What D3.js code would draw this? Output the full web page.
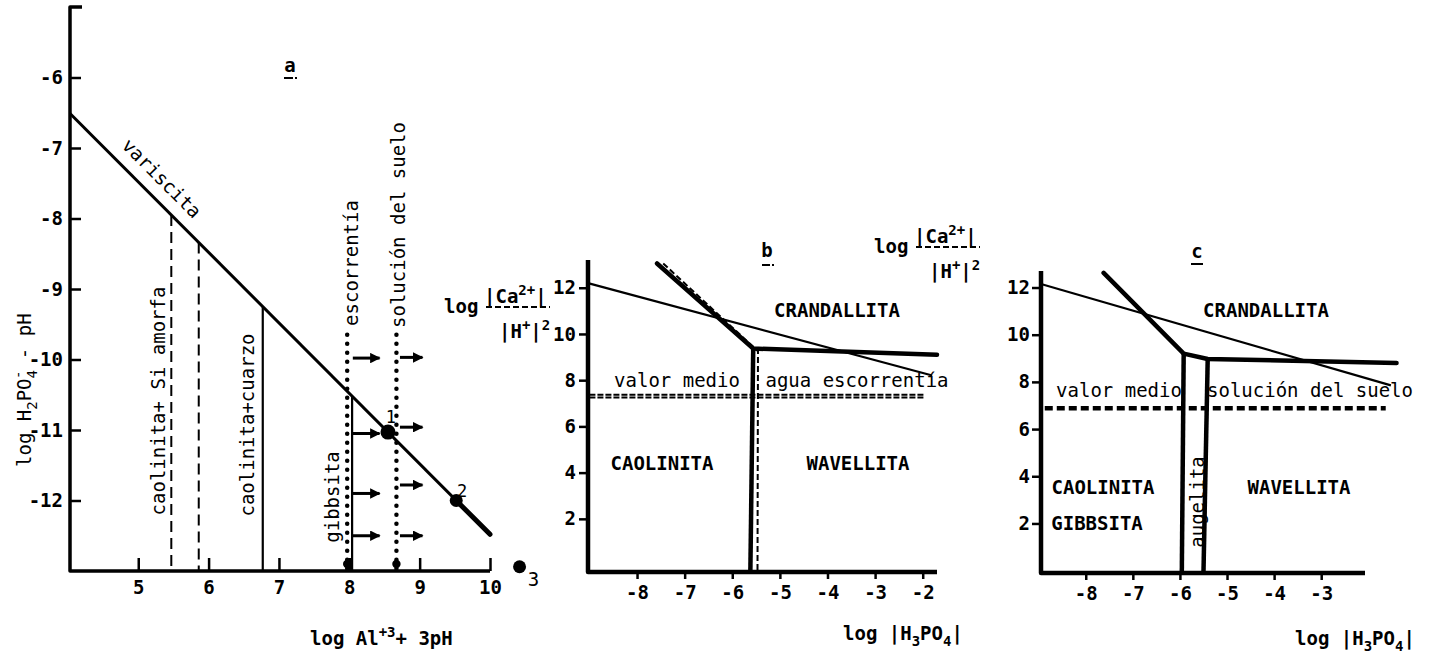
<!DOCTYPE html>
<html>
<head>
<meta charset="utf-8">
<script src="https://cdn.jsdelivr.net/npm/d3@7"></script>
<style>
  body { margin: 0; background: #fff; }
  svg text { font-family: "DejaVu Sans Mono", monospace; fill: #000; font-size: 19px; }
  .bold { font-weight: bold; }
  .tick text { font-family: "DejaVu Sans Mono", monospace; font-size: 19px; font-weight: bold; }
</style>
</head>
<body>
<svg id="chart" width="1430" height="660"></svg>
<script>
// ---------- data, panel a ----------
const aXTicks = [5, 6, 7, 8, 9, 10];
const aYTicks = [-6, -7, -8, -9, -10, -11, -12];
const variscita = [[4.03, -6.51], [10, -12.48]];
const variscitaThick = [[9.52, -12.0], [10, -12.48]];
const aDashedX = [5.47, 5.86];
const aDashedTop = [-7.95, -8.34];
const aSolidX = [6.77, 8.04];
const aSolidTop = [-9.25, -10.52];
const aDottedX = [7.97, 8.67];
const aDottedTop = [-9.65, -9.65];
const arrowsLeftY = [-9.98, -11.05, -11.9, -12.5];
const arrowsRightY = [-9.97, -10.96, -11.78, -12.5];
const arrowsLeftX = [8.05, 8.43];
const arrowsRightX = [8.72, 9.04];
const aPoints = [
  { x: 8.55, y: -11.03, label: "1" },
  { x: 9.52, y: -12.0, label: "2" },
  { x: 10.42, y: -12.94, label: "3" }
];

// ---------- data, panel b ----------
const bXTicks = [-8, -7, -6, -5, -4, -3, -2];
const bYTicks = [2, 4, 6, 8, 10, 12];
const bThin = [[-9.03, 12.2], [-1.8, 8.2]];
const bThick = [[-7.58, 13.05], [-5.56, 9.37], [-1.7, 9.1]];
const bThickVert = [[-5.56, 9.37], [-5.62, -0.3]];
const bDashed = [[-7.45, 13.05], [-5.46, 9.25], [-5.47, -0.3]];
const bMedio = [7.37, 7.25];
const bMedioX = [-9.0, -1.95];

// ---------- data, panel c ----------
const cXTicks = [-8, -7, -6, -5, -4, -3];
const cYTicks = [2, 4, 6, 8, 10, 12];
const cThin = [[-8.95, 12.15], [-1.52, 7.85]];
const cThick = [[-7.62, 12.62], [-5.92, 9.2], [-5.41, 8.97], [-1.4, 8.8]];
const cVert1 = [[-5.92, 9.2], [-5.96, -0.1]];
const cVert2 = [[-5.41, 8.97], [-5.5, -0.1]];
const cMedio = 6.88;
const cMedioX = [-8.87, -1.63];

const svg = d3.select("#chart");

// arrow head
svg.append("defs").append("marker")
    .attr("id", "arrow")
    .attr("viewBox", "0 0 10 10")
    .attr("refX", 9).attr("refY", 5)
    .attr("markerWidth", 4).attr("markerHeight", 3.5)
    .attr("markerUnits", "strokeWidth")
    .attr("orient", "auto")
  .append("path")
    .attr("d", "M0,0 L10,5 L0,10 Z")
    .attr("fill", "#000");

function path(g, pts, x, y, w, dash, cap) {
  return g.append("path")
    .attr("d", d3.line().x(d => x(d[0])).y(d => y(d[1]))(pts))
    .attr("fill", "none")
    .attr("stroke", "#000")
    .attr("stroke-width", w)
    .attr("stroke-linejoin", "round")
    .attr("stroke-linecap", cap || "butt")
    .attr("stroke-dasharray", dash || null);
}

function label(g, str, cx, cy, opts = {}) {
  const t = g.append("text")
    .attr("text-anchor", opts.anchor || "middle")
    .attr("dominant-baseline", "central")
    .attr("class", opts.bold ? "bold" : null)
    .attr("transform", `translate(${cx},${cy}) rotate(${opts.rot || 0})`)
    .text(str);
  if (opts.size) t.style("font-size", opts.size + "px");
  return t;
}

// mixed text with sub/superscripts: parts = [[text, "n"|"sub"|"sup", dx]]
function rich(g, parts, x, y, rot) {
  const t = g.append("text")
    .attr("transform", `translate(${x},${y}) rotate(${rot || 0})`);
  let shift = 0;
  parts.forEach(([s, kind, dx]) => {
    const target = kind === "sub" ? 6 : kind === "sup" ? -8 : 0;
    const ts = t.append("tspan").text(s).attr("dy", target - shift);
    if (dx) ts.attr("dx", dx);
    if (kind !== "n") ts.style("font-size", "14px");
    shift = target;
  });
  return t;
}

function styleAxis(g) {
  g.select(".domain").remove();
  g.selectAll(".tick line").attr("stroke", "#000").attr("stroke-width", 2.5);
}

// ================= panel a =================
const ax = d3.scaleLinear().domain([4.03, 10]).range([70, 490]);
const ay = d3.scaleLinear().domain([-13, -5]).range([571, 7]);
const ga = svg.append("g");

ga.append("g")
    .attr("transform", "translate(0,571)")
    .call(d3.axisBottom(ax).tickValues(aXTicks).tickSizeInner(-13).tickSizeOuter(0).tickPadding(10).tickFormat(d => String(d)))
    .call(styleAxis);
ga.append("g")
    .attr("transform", "translate(70,0)")
    .call(d3.axisLeft(ay).tickValues(aYTicks).tickSizeInner(-11).tickSizeOuter(0).tickPadding(7).tickFormat(d => String(d)))
    .call(styleAxis);

// axis frame
path(ga, [[ax.invert(82), -5], [4.03, -5], [4.03, -13], [10, -13]], ax, ay, 3.5);

// variscita line
path(ga, variscita, ax, ay, 3);
path(ga, variscitaThick, ax, ay, 5, null, "round");

// vertical lines
aDashedX.forEach((x, i) => path(ga, [[x, aDashedTop[i]], [x, -13]], ax, ay, 2, "11,6"));
aSolidX.forEach((x, i) => path(ga, [[x, aSolidTop[i]], [x, -13]], ax, ay, 2.2));
aDottedX.forEach((x, i) => {
  path(ga, [[x, aDottedTop[i]], [x, -13]], ax, ay, 4.5, "0,9", "round");
  ga.append("circle").attr("cx", ax(x)).attr("cy", ay(-12.9)).attr("r", 4.2).attr("fill", "#000");
});

// arrows
arrowsLeftY.forEach(y => path(ga, [[arrowsLeftX[0], y], [arrowsLeftX[1], y]], ax, ay, 3).attr("marker-end", "url(#arrow)"));
arrowsRightY.forEach(y => path(ga, [[arrowsRightX[0], y], [arrowsRightX[1], y]], ax, ay, 3).attr("marker-end", "url(#arrow)"));

// points
ga.selectAll("circle.pt").data(aPoints).enter().append("circle")
    .attr("class", "pt")
    .attr("cx", d => ax(d.x)).attr("cy", d => ay(d.y))
    .attr("r", (d, i) => i === 0 ? 7.5 : 6.5)
    .attr("fill", "#000");
label(ga, "1", ax(aPoints[0].x) + 3, ay(aPoints[0].y) - 15, { size: 17 });
label(ga, "2", ax(aPoints[1].x) + 6, ay(aPoints[1].y) - 10, { size: 17 });
label(ga, "3", ax(aPoints[2].x) + 14, ay(aPoints[2].y) + 12, { size: 19 });

// panel letter
label(ga, "a", 290, 65, { bold: true });
ga.append("line").attr("x1", 284).attr("x2", 297).attr("y1", 78).attr("y2", 78)
  .attr("stroke", "#000").attr("stroke-width", 2).attr("stroke-dasharray", "9,2");

// rotated labels
label(ga, "variscita", 162, 178, { rot: 45.2 });
label(ga, "caolinita+ Si amorfa", 158, 401, { rot: -90 });
label(ga, "caolinita+cuarzo", 247, 425, { rot: -90 });
label(ga, "gibbsita", 332, 497, { rot: -90 });
label(ga, "escorrentía", 351, 263, { rot: -90 });
label(ga, "solución del suelo", 398, 225, { rot: -90 });

// axis titles
rich(ga, [["log Al", "n"], ["+3", "sup"], ["+ 3pH", "n"]], 310, 645).classed("bold", true);
rich(ga, [["log H", "n"], ["2", "sub"], ["PO", "n"], ["4", "sub"], ["-", "sup", -9], [" - pH", "n"]], 31, 467, -90);

// ================= panel b =================
const bx = d3.scaleLinear().domain([-9.03, -1.7]).range([588, 937]);
const by = d3.scaleLinear().domain([-0.3, 13.2]).range([572, 260]);
const gb = svg.append("g");

gb.append("g")
    .attr("transform", "translate(0,572)")
    .call(d3.axisBottom(bx).tickValues(bXTicks).tickSizeInner(7).tickSizeOuter(0).tickPadding(7).tickFormat(d => String(d)))
    .call(styleAxis);
gb.append("g")
    .attr("transform", "translate(588,0)")
    .call(d3.axisLeft(by).tickValues(bYTicks).tickSizeInner(9).tickSizeOuter(0).tickPadding(3).tickFormat(d => String(d)))
    .call(styleAxis);
path(gb, [[-9.03, 13.2], [-9.03, -0.3], [-1.7, -0.3]], bx, by, 4.5);

path(gb, bThin, bx, by, 2.2);
path(gb, bDashed, bx, by, 2, "6,3");
path(gb, bThick, bx, by, 4.5, null, "round");
path(gb, bThickVert, bx, by, 4.5);
bMedio.forEach(v => path(gb, [[bMedioX[0], v], [bMedioX[1], v]], bx, by, 2, "6,2"));

label(gb, "b", 767, 250, { bold: true });
gb.append("line").attr("x1", 762).attr("x2", 774).attr("y1", 265).attr("y2", 265)
  .attr("stroke", "#000").attr("stroke-width", 2).attr("stroke-dasharray", "8,2");

label(gb, "valor medio", 677, 380);
label(gb, "agua escorrentía", 857, 380);
label(gb, "CRANDALLITA", 837, 310, { bold: true });
label(gb, "CAOLINITA", 662, 463, { bold: true });
label(gb, "WAVELLITA", 858, 463, { bold: true });

function fracLabel(g, x, y) {
  // "log |Ca2+| / |H+|2" with a dashed fraction bar; y is the bar position
  g.append("text").attr("x", x).attr("y", y + 6).attr("class", "bold").text("log");
  rich(g, [["|Ca", "n"], ["2+", "sup"], ["|", "n"]], x + 40, y - 4).classed("bold", true);
  g.append("line").attr("x1", x + 42).attr("x2", x + 106).attr("y1", y).attr("y2", y)
    .attr("stroke", "#000").attr("stroke-width", 2).attr("stroke-dasharray", "6,3");
  rich(g, [["|H", "n"], ["+", "sup"], ["|", "n"], ["2", "sup"]], x + 55, y + 31).classed("bold", true);
}
fracLabel(gb, 444, 307);

rich(gb, [["log |H", "n"], ["3", "sub"], ["PO", "n"], ["4", "sub"], ["|", "n"]], 843, 640).classed("bold", true);

// ================= panel c =================
const cx = d3.scaleLinear().domain([-8.95, -2.07]).range([1041, 1365]);
const cy = d3.scaleLinear().domain([-0.1, 12.7]).range([573, 271]);
const gc = svg.append("g");

gc.append("g")
    .attr("transform", "translate(0,573)")
    .call(d3.axisBottom(cx).tickValues(cXTicks).tickSizeInner(7).tickSizeOuter(0).tickPadding(7).tickFormat(d => String(d)))
    .call(styleAxis);
gc.append("g")
    .attr("transform", "translate(1041,0)")
    .call(d3.axisLeft(cy).tickValues(cYTicks).tickSizeInner(9).tickSizeOuter(0).tickPadding(2).tickFormat(d => String(d)))
    .call(styleAxis);
path(gc, [[-8.95, 12.7], [-8.95, -0.1], [-2.07, -0.1]], cx, cy, 4.5);

path(gc, cThin, cx, cy, 2.2);
path(gc, cThick, cx, cy, 4.5, null, "round");
path(gc, cVert1, cx, cy, 4.5);
path(gc, cVert2, cx, cy, 4.5);
path(gc, [[cMedioX[0], cMedio], [cMedioX[1], cMedio]], cx, cy, 4.5, "8,4");

label(gc, "c", 1197, 251, { bold: true });
gc.append("line").attr("x1", 1191).attr("x2", 1203).attr("y1", 264).attr("y2", 264)
  .attr("stroke", "#000").attr("stroke-width", 2);

label(gc, "valor medio", 1119, 390);
label(gc, "solución del suelo", 1310, 390);
label(gc, "CRANDALLITA", 1266, 310, { bold: true });
label(gc, "CAOLINITA", 1103, 487, { bold: true });
label(gc, "GIBBSITA", 1097, 523, { bold: true });
label(gc, "WAVELLITA", 1299, 487, { bold: true });
label(gc, "augelita", 1197, 502, { rot: -90 });

fracLabel(gc, 874, 247);

rich(gc, [["log |H", "n"], ["3", "sub"], ["PO", "n"], ["4", "sub"], ["|", "n"]], 1295, 645).classed("bold", true);
</script>
</body>
</html>
